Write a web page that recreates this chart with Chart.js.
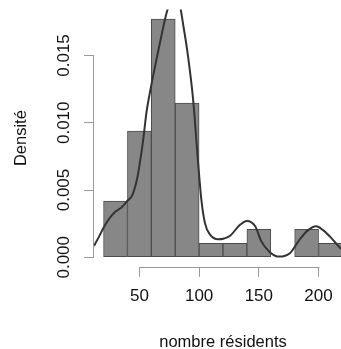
<!DOCTYPE html>
<html>
<head>
<meta charset="utf-8">
<script src="https://cdn.jsdelivr.net/npm/chart.js@4"></script>
<style>
  html, body { margin: 0; padding: 0; background: #fff; overflow: hidden; }
  canvas { display: block; }
</style>
</head>
<body>
<canvas id="histo" width="352" height="349"></canvas>
<script>
// histogram bins (width 20) and their densities
const binMids = [30, 50, 70, 90, 110, 130, 150, 170, 190, 210];
const binDensity = [0.00417, 0.00938, 0.01771, 0.01146, 0.00104, 0.00104, 0.00208, null, 0.00208, 0.00104];

// kernel density curve
const densX = [12, 16, 20, 25, 30, 35, 40, 44, 48, 50, 53, 56, 60, 65, 69, 72, 75, 78, 81, 84, 87, 90, 95, 99, 102, 105, 109, 116, 121, 126, 134, 140, 147, 152, 159, 167, 176, 184, 191, 198, 204, 210, 218, 224, 228];
const densY = [0.00085, 0.0015, 0.0022, 0.0029, 0.0034, 0.0037, 0.0042, 0.0046, 0.0058, 0.0068, 0.0086, 0.0108, 0.0128, 0.0150, 0.0167, 0.0179, 0.0188, 0.0194, 0.0195, 0.0187, 0.0171, 0.0154, 0.0117, 0.0072, 0.0042, 0.0025, 0.0017, 0.00134, 0.0014, 0.0016, 0.0024, 0.0027, 0.0023, 0.0012, 0.0004, 0.00005, 0.0003, 0.0013, 0.0020, 0.0023, 0.0020, 0.0015, 0.0007, 0.0003, 0.0001];

const xTicks = [50, 100, 150, 200];
const yTicks = [0, 0.005, 0.010, 0.015];

const axisGray = '#9a9a9a';
const textCol = '#111';
const fontFam = '"Liberation Sans", Arial, sans-serif';

// R style axis lines: only from first to last tick
const axisLines = {
    id: 'axisLines',
    afterDraw(chart) {
        const ctx = chart.ctx;
        const xs = chart.scales.x, ys = chart.scales.y;
        ctx.save();
        ctx.strokeStyle = axisGray;
        ctx.lineWidth = 1;
        ctx.beginPath();
        const lx = Math.round(chart.chartArea.left) - 0.5;
        ctx.moveTo(lx, Math.round(ys.getPixelForValue(yTicks[0])) + 0.5);
        ctx.lineTo(lx, Math.round(ys.getPixelForValue(yTicks[yTicks.length - 1])) + 0.5);
        const by = Math.round(chart.chartArea.bottom) + 0.5;
        ctx.moveTo(Math.round(xs.getPixelForValue(xTicks[0])) + 0.5, by);
        ctx.lineTo(Math.round(xs.getPixelForValue(xTicks[xTicks.length - 1])) + 0.5, by);
        ctx.stroke();
        ctx.restore();
    }
};

new Chart(document.getElementById('histo'), {
    type: 'bar',
    data: {
        datasets: [{
            type: 'line',
            data: densX.map((x, i) => ({ x: x, y: densY[i] })),
            borderColor: '#333',
            borderWidth: 2,
            pointRadius: 0,
            cubicInterpolationMode: 'monotone',
            order: 0
        }, {
            data: binMids.map((x, i) => ({ x: x, y: binDensity[i] })),
            backgroundColor: '#878787',
            borderColor: '#4d4d4d',
            borderWidth: 1,
            borderSkipped: false,
            barPercentage: 1,
            categoryPercentage: 1,
            order: 1
        }]
    },
    options: {
        responsive: false,
        animation: false,
        devicePixelRatio: 1,
        layout: { padding: { top: 9.5, left: 0, right: 0, bottom: 0 } },
        plugins: { legend: { display: false }, tooltip: { enabled: false } },
        scales: {
            x: {
                type: 'linear',
                min: 12,
                max: 228,
                offset: false,
                afterBuildTicks: s => { s.ticks = xTicks.map(v => ({ value: v })); },
                afterFit: s => { s.height = 82.2; },
                ticks: {
                    color: textCol,
                    font: { family: fontFam, size: 17 },
                    padding: 9,
                    maxRotation: 0,
                    autoSkip: false,
                    callback: v => String(v)
                },
                grid: { offset: false, drawOnChartArea: false, drawTicks: true, tickLength: 10, color: axisGray },
                border: { display: false },
                title: {
                    display: true,
                    text: 'nombre résidents',
                    color: textCol,
                    font: { family: fontFam, size: 16.5, lineHeight: 0.85 },
                    padding: 0
                }
            },
            y: {
                min: -0.000708,
                max: 0.018417,
                afterBuildTicks: s => { s.ticks = yTicks.map(v => ({ value: v })); },
                afterFit: s => { s.width = 94; },
                ticks: {
                    color: textCol,
                    font: { family: fontFam, size: 17 },
                    minRotation: 90,
                    maxRotation: 90,
                    crossAlign: 'center',
                    padding: -2,
                    autoSkip: false,
                    callback: v => v.toFixed(3)
                },
                grid: { drawOnChartArea: false, drawTicks: true, tickLength: 10, color: axisGray },
                border: { display: false },
                title: {
                    display: true,
                    text: 'Densité',
                    color: textCol,
                    font: { family: fontFam, size: 16.5, lineHeight: 1 },
                    padding: { top: 12.75, bottom: 0 }
                }
            }
        }
    },
    plugins: [axisLines]
});
</script>
</body>
</html>
